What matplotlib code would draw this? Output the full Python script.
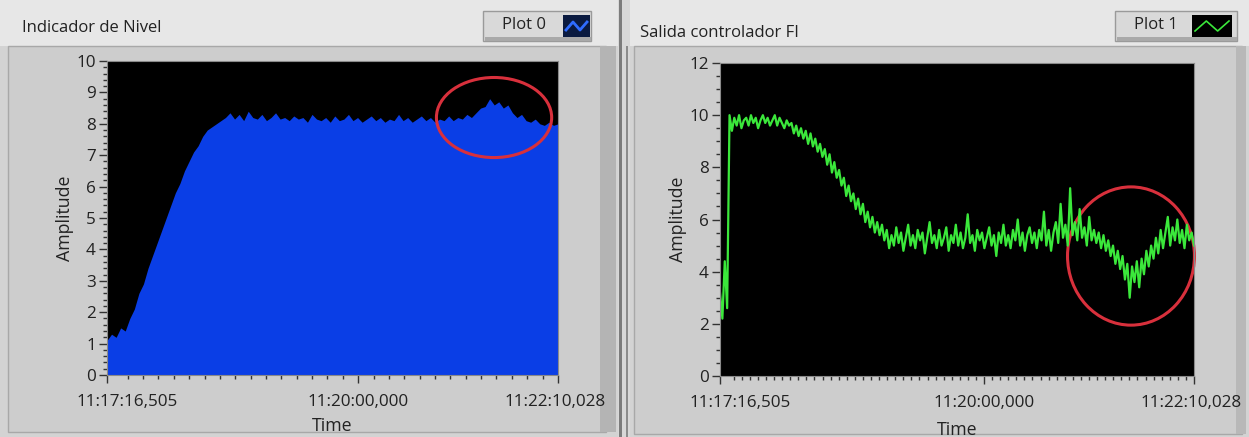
import numpy as np
import matplotlib
import matplotlib.pyplot as plt
from matplotlib.patches import Rectangle, Ellipse
from matplotlib.transforms import ScaledTranslation
from matplotlib.ticker import MultipleLocator, FixedLocator

matplotlib.rcParams['font.family'] = ['Open Sans', 'DejaVu Sans']

# time span of both records (seconds after 11:17:16,505)
t_end = 293.523
t_mid = 163.495
tick_labels = ["11:17:16,505", "11:20:00,000", "11:22:10,028"]

# tank level (Plot 0), sampled evenly over the record
nivel = [1.1, 1.3, 1.2, 1.5, 1.4, 1.8, 2.1, 2.6, 2.9, 3.4, 3.8, 4.2, 4.6, 5.0, 5.4, 5.8,
         6.1, 6.5, 6.8, 7.1, 7.3, 7.6, 7.8, 7.9, 8.0, 8.1,
         8.2, 8.35, 8.15, 8.3, 8.1, 8.4, 8.2, 8.15, 8.3, 8.1, 8.2, 8.35, 8.15, 8.2, 8.1,
         8.25, 8.15, 8.2, 8.05, 8.3, 8.15, 8.1, 8.2, 8.05, 8.25, 8.1, 8.15, 8.3, 8.1, 8.2,
         8.05, 8.15, 8.25, 8.1, 8.2, 8.05, 8.15, 8.1, 8.3, 8.1, 8.2, 8.05, 8.15, 8.25, 8.1,
         8.2, 8.05, 8.15, 8.1, 8.25, 8.1, 8.2, 8.15, 8.3,
         8.2, 8.35, 8.5, 8.55, 8.8, 8.6, 8.7, 8.5, 8.6, 8.35, 8.2, 8.3, 8.1, 8.05, 8.15,
         8.0, 7.95, 8.05, 7.95, 8.0]

# PI controller output (Plot 1)
salida = [3.2, 2.2, 4.4, 2.6, 10.0,
          9.4, 9.9, 9.6, 10.0, 9.5, 9.8, 9.9, 9.6, 10.0, 9.7, 9.9, 9.5, 9.8, 10.0, 9.7,
          9.9, 9.6, 9.8, 10.0, 9.6, 9.9, 9.7, 9.5, 9.8, 9.6,
          9.7, 9.3, 9.6, 9.2, 9.5, 9.1, 9.4, 8.9, 9.3, 8.8, 9.1, 8.6, 8.9, 8.4, 8.7, 8.1,
          8.5, 7.8, 8.2, 7.6, 7.9, 7.3, 7.6, 6.9, 7.3, 6.7, 7.0, 6.4, 6.8, 6.2, 6.6, 5.9,
          6.3, 5.7, 6.1, 5.5, 5.9, 5.4, 5.8, 5.2,
          5.6, 4.9, 5.4, 5.0, 5.7, 5.1, 5.5, 4.8, 5.3, 5.8, 5.0, 5.4, 4.9, 5.6, 5.2, 5.5,
          4.7, 5.3, 5.9, 5.1, 5.4, 4.9, 5.6, 5.0, 5.3, 5.7, 4.8, 5.4, 5.1, 5.8, 5.0, 5.5,
          4.9, 5.3, 6.2, 5.1, 5.4, 4.8, 5.6, 5.2, 5.5, 4.9, 5.3, 5.7, 5.0, 5.4, 4.6, 5.5,
          5.1, 5.8, 5.0, 5.4, 4.9, 5.6, 5.2, 6.0, 5.0, 5.5, 4.8, 5.4, 5.7, 5.1, 5.5, 4.9,
          5.6, 5.2, 6.3, 5.0, 5.6, 4.8, 5.5, 5.9, 5.1, 6.6, 5.3, 5.8, 5.0, 7.2, 5.4, 5.9,
          5.2, 6.4, 5.3, 5.7, 5.0, 6.1, 5.2, 5.6, 5.1,
          5.5, 4.9, 5.4, 4.8, 5.2, 4.6, 5.0, 4.3, 4.8, 4.1, 4.6, 3.7, 4.3, 3.0, 4.2, 3.6,
          4.4, 3.4, 4.5, 3.9, 4.8, 4.2, 5.0, 4.5, 5.3, 4.7,
          5.6, 4.9, 5.5, 6.1, 5.0, 5.7, 5.2, 6.0, 5.1, 5.6, 4.9, 5.8, 5.2, 5.5, 5.0]

# regions marked in red: (center time, center value, width s, height)
marca_nivel = (251.9, 8.2, 75.0, 2.55)
marca_salida = (254.5, 4.6, 78.6, 5.3)

W, H = 1249, 437
fig = plt.figure(figsize=(W / 100, H / 100), dpi=100)
fig.patch.set_facecolor('#d3d3d3')

# panel decoration in pixel coordinates
bg = fig.add_axes([0, 0, 1, 1], zorder=-5)
bg.set_xlim(0, W)
bg.set_ylim(H, 0)
bg.axis('off')
bg.add_patch(Rectangle((0, 0), 620, 46, color='#e7e7e7', lw=0))
bg.add_patch(Rectangle((630, 0), W - 630, 46, color='#e7e7e7', lw=0))
bg.add_patch(Rectangle((8, 46), 598, 386, fc='#cdcdcd', ec='#a8a8a8', lw=1))
bg.add_patch(Rectangle((600, 46), 16, 386, color='#b4b4b4', lw=0))
bg.add_patch(Rectangle((618, 0), 12, H, color='#d8d8d8', lw=0))
bg.add_patch(Rectangle((619, 0), 3, H, color='#7c7c7c', lw=0))
bg.add_patch(Rectangle((626, 46), 2, H - 46, color='#8c8c8c', lw=0))
bg.add_patch(Rectangle((634, 46), 608, 388, fc='#cdcdcd', ec='#a8a8a8', lw=1))
bg.add_patch(Rectangle((1236, 46), 10, 388, color='#b8b8b8', lw=0))

bg.text(22, 28, "Indicador de Nivel", fontsize=12, color='#222222', va='center')
bg.text(640, 33, "Salida controlador FI", fontsize=12, color='#222222', va='center')

# legend buttons
for x0, w, name, sx, sw, fc, lc in [(483, 108, "Plot 0", 563, 27, '#0a1a40', '#2f6cff'),
                                   (1115, 122, "Plot 1", 1192, 40, '#000000', '#3be83b')]:
    bg.add_patch(Rectangle((x0, 11), w, 30, fc='#d9d9d9', ec='#9a9a9a', lw=1))
    bg.add_patch(Rectangle((x0 + 2, 37), w - 2, 4, color='#a9a9a9', lw=0))
    bg.text(x0 + 19, 25, name, fontsize=12, color='#222222', va='center')
    bg.add_patch(Rectangle((sx, 15), sw, 22, color=fc, lw=0))
    xs = np.linspace(sx + 3, sx + sw - 3, 4)
    bg.plot(xs, [31, 21, 31, 21] if name == "Plot 1" else [30, 22, 30, 22],
            color=lc, lw=2 if name == "Plot 0" else 1.2)


def style_axis(ax, ymax, ymajor, yminor, xminor, xlabelpad):
    ax.set_facecolor('black')
    ax.set_xlim(0, t_end)
    ax.set_ylim(0, ymax)
    for s in ax.spines.values():
        s.set_color('#8a8a8a')
        s.set_linewidth(0.8)
    ax.yaxis.set_major_locator(MultipleLocator(ymajor))
    ax.yaxis.set_minor_locator(MultipleLocator(yminor))
    ax.xaxis.set_major_locator(FixedLocator([0, t_mid, t_end]))
    ax.xaxis.set_minor_locator(FixedLocator(xminor))
    ax.set_xticklabels(tick_labels)
    ax.tick_params(which='major', length=6, width=1, color='#333333',
                   labelsize=12.3, labelcolor='#222222', pad=2)
    ax.tick_params(which='minor', length=3, width=1, color='#333333')
    ax.tick_params(axis='x', pad=8)
    ax.set_ylabel("Amplitude", fontsize=12.8, color='#222222', labelpad=2)
    ax.set_xlabel("Time", fontsize=12.8, color='#222222', labelpad=xlabelpad)
    ticks = ax.xaxis.get_major_ticks()
    first = ticks[0].label1
    first.set_transform(first.get_transform() + ScaledTranslation(0.2, 0, fig.dpi_scale_trans))
    last = ticks[-1].label1
    last.set_transform(last.get_transform() + ScaledTranslation(-0.03, 0, fig.dpi_scale_trans))


x_minor = [t for t in np.arange(13.495, t_end - 3, 10.0)]
ax1 = fig.add_axes([107 / W, 1 - 375 / H, 451 / W, 314 / H])
t1 = np.linspace(0, t_end, len(nivel))
ax1.fill_between(t1, nivel, 0, color='#0a3ee6', lw=0)
style_axis(ax1, 10, 1, 0.2, x_minor, 5)
ax1.add_patch(Ellipse(marca_nivel[:2], marca_nivel[2], marca_nivel[3],
                      fill=False, ec='#d8303c', lw=2.2, clip_on=False))

x_minor2 = [t for t in np.arange(8.495, t_end - 3, 5.0)]
ax2 = fig.add_axes([720 / W, 1 - 376 / H, 474 / W, 313 / H])
t2 = np.linspace(0, t_end, len(salida))
ax2.plot(t2, salida, color='#3be83b', lw=1.6)
style_axis(ax2, 12, 2, 0.5, x_minor2, 7)
ax2.add_patch(Ellipse(marca_salida[:2], marca_salida[2], marca_salida[3],
                      fill=False, ec='#d8303c', lw=2.2, clip_on=False))

fig.savefig('out.png', dpi=100, facecolor=fig.get_facecolor())
